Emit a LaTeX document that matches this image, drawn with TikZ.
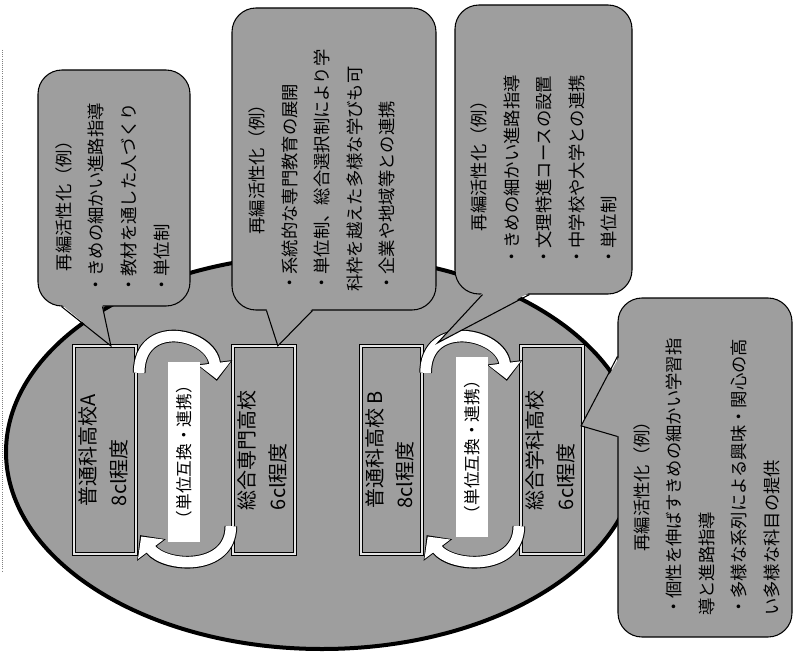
\documentclass[tikz,border=0pt]{standalone}
\usepackage{fontspec}
\setmainfont{Noto Sans CJK JP}
\usepackage{graphicx}
\usetikzlibrary{positioning,calc,arrows.meta}
\definecolor{halftone}{gray}{0.62}
\tikzset{
  school/.style={draw,fill=halftone,line width=0.7pt,double=gray!20,double distance=1.5pt,
    minimum width=46pt,minimum height=155.5pt,inner sep=0pt,font=\fontsize{15}{23}\selectfont},
  note/.style={draw,fill=halftone,line width=0.8pt,rounded corners=18pt,inner sep=0pt},
  notetext/.style={rotate=90,anchor=west,align=left,inner sep=0pt,font=\fontsize{13}{24.4}\selectfont},
  tail/.style={line width=0.8pt,line join=miter},
  tag/.style={fill=white,minimum width=24pt,minimum height=135pt,inner sep=0pt,font=\fontsize{12.5}{14}\selectfont},
  loopline/.style={line width=9.5pt,-{Triangle[width=26pt,length=14pt]}},
  loopfill/.style={white,line width=8pt,shorten >=1.3pt,-{Triangle[width=23.5pt,length=12pt]}},
}
\newcommand{\tate}[1]{\rotatebox{90}{\begin{tabular}{@{}l@{}}#1\end{tabular}}}

\begin{document}
\begin{tikzpicture}[x=0.75pt,y=0.75pt]
\useasboundingbox (0,0) rectangle (795,-652);
\draw[gray,densely dotted,line width=0.6pt] (2,-50) -- (2,-572);

% the whole area
\draw[line width=3pt,fill=halftone] (322,-452) ellipse [x radius=316, y radius=197];

% schools
\node[school] (schA) at (105,-450) {\tate{普通科高校A\\8cl程度}};
\node[school] (senmon) at (264,-450) {\tate{総合専門高校\\6cl程度}};
\node[school] (schB) at (391.5,-450) {\tate{普通科高校 B\\8cl程度}};
\node[school] (sogo) at (552,-450) {\tate{総合学科高校\\6cl程度}};

% exchange loops
\draw[loopline] ($(schA.north east)+(3,-27)$) .. controls +(0,55) and +(-6,48) .. ($(senmon.north west)+(-16,-35)$);
\draw[loopfill] ($(schA.north east)+(3,-27)$) .. controls +(0,55) and +(-6,48) .. ($(senmon.north west)+(-16,-35)$);
\draw[loopline] ($(senmon.south west)+(-2,28)$) .. controls +(0,-45) and +(25,-33) .. ($(schA.south east)+(4,19)$);
\draw[loopfill] ($(senmon.south west)+(-2,28)$) .. controls +(0,-45) and +(25,-33) .. ($(schA.south east)+(4,19)$);
\draw[loopline] ($(schB.north east)+(3,-27)$) .. controls +(0,55) and +(-6,48) .. ($(sogo.north west)+(-14,-35)$);
\draw[loopfill] ($(schB.north east)+(3,-27)$) .. controls +(0,55) and +(-6,48) .. ($(sogo.north west)+(-14,-35)$);
\draw[loopline] ($(sogo.south west)+(-2,28)$) .. controls +(0,-45) and +(25,-33) .. ($(schB.south east)+(4,19)$);
\draw[loopfill] ($(sogo.south west)+(-2,28)$) .. controls +(0,-45) and +(25,-33) .. ($(schB.south east)+(4,19)$);
\node[tag] (tg1) at (184,-452) {\rotatebox{90}{（単位互換・連携）}};
\node[tag] (tg2) at (472,-447) {\rotatebox{90}{（単位互換・連携）}};

% callouts
\node[note,minimum width=114pt,minimum height=177pt] (n1) at (114,-188) {};
\node[note,minimum width=153pt,minimum height=226.5pt] (n2) at (334,-159) {};
\node[note,minimum width=132.75pt,minimum height=216.75pt] (n3) at (543.5,-149.5) {};
\node[note,minimum width=130.5pt,minimum height=254.25pt] (n4) at (705,-467.5) {};

\coordinate (n1a) at ($(n1.south west)+(24,0)$);
\coordinate (n1b) at ($(n1.south west)+(65,0)$);
\fill[halftone] ($(n1a)+(0,2)$) -- ($(schA.north west)+(37,0)$) -- ($(n1b)+(0,2)$) -- cycle;
\draw[tail] (n1a) -- ($(schA.north west)+(37,0)$) -- (n1b);
\coordinate (n2a) at ($(n2.south west)+(35,0)$);
\coordinate (n2b) at ($(n2.south west)+(81,0)$);
\fill[halftone] ($(n2a)+(0,2)$) -- ($(senmon.north west)+(45,0)$) -- ($(n2b)+(0,2)$) -- cycle;
\draw[tail] (n2a) -- ($(senmon.north west)+(45,0)$) -- (n2b);
\coordinate (n3a) at ($(n3.south west)+(28,0)$);
\coordinate (n3b) at ($(n3.south west)+(75,0)$);
\fill[halftone] ($(n3a)+(0,2)$) -- ($(schB.north east)+(15,3)$) -- ($(n3b)+(0,2)$) -- cycle;
\draw[tail] (n3a) -- ($(schB.north east)+(15,3)$) -- (n3b);
\coordinate (n4a) at ($(n4.north west)+(0,-59)$);
\coordinate (n4b) at ($(n4.north west)+(0,-139)$);
\fill[halftone] ($(n4a)+(2,0)$) -- ($(sogo.north east)+(-2,-80)$) -- ($(n4b)+(2,0)$) -- cycle;
\draw[tail] (n4a) -- ($(sogo.north east)+(-2,-80)$) -- (n4b);

\node[notetext] (t1) at (112.5,-294) {\hspace*{1.3em}再編活性化（例）\\・きめの細かい進路指導\\・教材を通した人づくり\\・単位制};
\node[notetext] (t2) at (322,-292) {\hspace*{3.3em}再編活性化（例）\\・系統的な専門教育の展開\\・単位制、総合選択制により学\\科枠を越えた多様な学びも可\\・企業や地域等との連携};
\node[notetext] (t3) at (544,-266) {\hspace*{2em}再編活性化（例）\\・きめの細かい進路指導\\・文理特進コースの設置\\・中学校や大学との連携\\・単位制};
\node[notetext] (t4) at (706.5,-616) {\hspace*{3.7em}再編活性化（例）\\・個性を伸ばすきめの細かい学習指\\導と進路指導\\・多様な系列による興味・関心の高\\い多様な科目の提供};
\end{tikzpicture}
\end{document}
